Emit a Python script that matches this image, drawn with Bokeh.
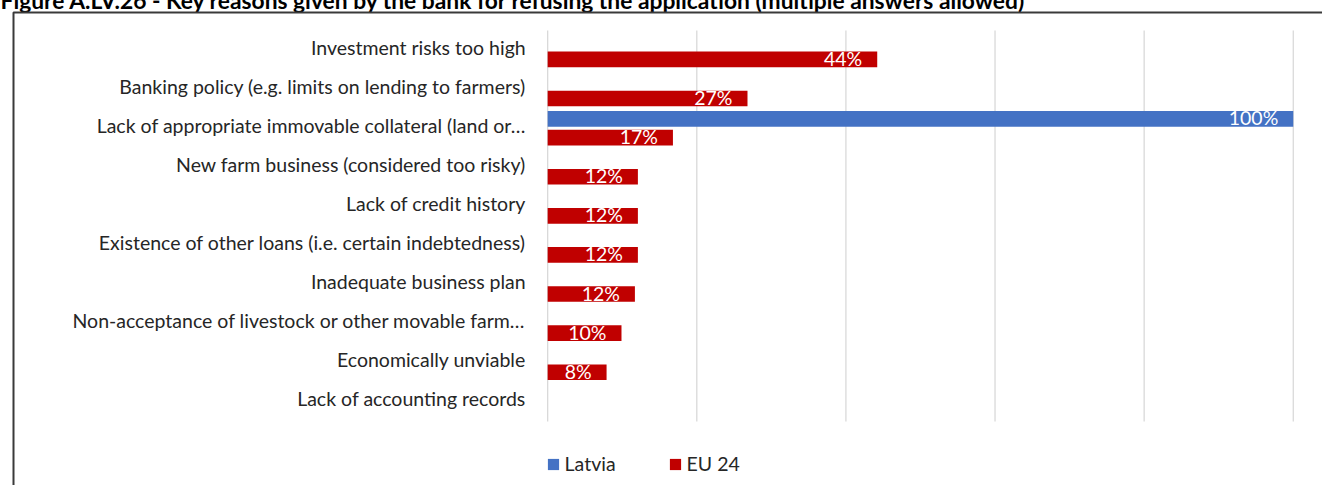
from bokeh.plotting import figure
from bokeh.models import (ColumnDataSource, Range1d, Legend, LegendItem, Label,
                          PolyAnnotation)
from bokeh.transform import dodge
from bokeh.core.properties import value
from bokeh.embed import file_html
from bokeh.resources import INLINE

# ---------------- data ----------------
categories = [
    "Investment risks too high",
    "Banking policy (e.g. limits on lending to farmers)",
    "Lack of appropriate immovable collateral (land or…",
    "New farm business (considered too risky)",
    "Lack of credit history",
    "Existence of other loans (i.e. certain indebtedness)",
    "Inadequate business plan",
    "Non-acceptance of livestock or other movable farm…",
    "Economically unviable",
    "Lack of accounting records",
]
latvia = [0, 0, 100, 0, 0, 0, 0, 0, 0, 0]
eu24 = [44.2, 26.8, 16.8, 12.1, 12.1, 12.1, 11.7, 9.9, 7.9, 0]
series_names = ["Latvia", "EU 24"]
x_ticks = [0, 20, 40, 60, 80, 100]
title_text = ("Figure A.LV.26 - Key reasons given by the bank for refusing the "
              "application (multiple answers allowed)")

LV_COLOR = "#4472C4"
EU_COLOR = "#C00000"
FONT = "Lato"
TXT = "#262626"
FS = "19.5px"

pos = list(range(len(categories)))  # category slot, top to bottom
src = ColumnDataSource(dict(pos=pos, cat=categories, latvia=latvia, eu=eu24))


def label_source(vals):
    keep = [(i, v) for i, v in zip(pos, vals) if v > 0]
    return ColumnDataSource(dict(pos=[i for i, _ in keep],
                                 x=[v for _, v in keep],
                                 t=[f"{round(v)}%" for _, v in keep]))


lv_lab = label_source(latvia)
eu_lab = label_source(eu24)

n = len(categories)
p = figure(width=1330, height=493,
           x_range=Range1d(-74.46, 103.92),
           y_range=Range1d(n + 1.137, -1.472),
           output_backend="svg", toolbar_location=None,
           x_axis_location=None, y_axis_location=None,
           min_border=0)
p.styles = {"margin": "-8px 0px -8px -8px"}
p.outline_line_color = None
p.background_fill_color = "white"
p.border_fill_color = "white"
p.grid.visible = False

# vertical gridlines over the category band
p.segment(x0=x_ticks, x1=x_ticks, y0=-0.5, y1=n - 0.5,
          line_color="#d9d9d9", line_width=1.3)

# category labels
p.text(x=0, y="pos", text="cat", source=src, x_offset=-22, y_offset=-3,
       text_align="right", text_baseline="middle", text_color=TXT,
       text_font=value(FONT), text_font_size=FS)

OFF = 0.24
H = 0.4
r_lv = p.hbar(y=dodge("pos", -OFF), left=0, right="latvia",
              height=H, source=src, fill_color=LV_COLOR, line_color=None)
r_eu = p.hbar(y=dodge("pos", OFF), left=0, right="eu",
              height=H, source=src, fill_color=EU_COLOR, line_color=None)

for s, off in ((lv_lab, -OFF), (eu_lab, OFF)):
    p.text(x="x", y=dodge("pos", off), text="t", source=s,
           text_align="right", text_baseline="middle", x_offset=-15, y_offset=-1,
           text_color="white", text_font=value(FONT), text_font_size=FS)

legend = Legend(items=[LegendItem(label=series_names[0], renderers=[r_lv]),
                       LegendItem(label=series_names[1], renderers=[r_eu])],
                orientation="horizontal", location=(553.6, 9.6),
                padding=0, margin=0, spacing=52,
                glyph_width=14, glyph_height=14, label_height=12,
                label_standoff=5, label_text_font=FONT,
                label_text_font_size=FS, label_text_color=TXT,
                border_line_color=None, background_fill_alpha=0)
p.add_layout(legend)

p.add_layout(Label(x=8, y=486, x_units="screen", y_units="screen",
                   text=title_text, text_font=FONT, text_font_style="bold",
                   text_font_size="22.8px", text_color="black",
                   text_baseline="alphabetic"))

p.add_layout(PolyAnnotation(xs=[21, 21, 1345, 1345], ys=[-30, 473, 473, -30],
                            xs_units="screen", ys_units="screen",
                            fill_alpha=0, line_alpha=1,
                            line_color="#3a3a3a", line_width=2))

open("out.html", "w").write(file_html(p, INLINE))
